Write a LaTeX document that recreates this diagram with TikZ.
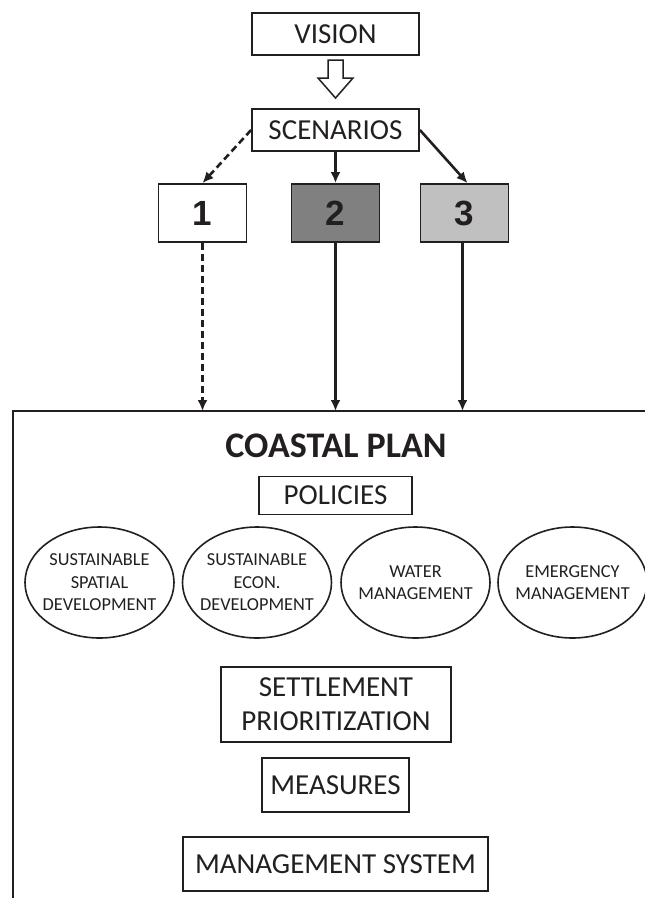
\documentclass[tikz,border=0pt]{standalone}
\usepackage{fontspec}
\setmainfont{Carlito}
\newfontfamily\numfont{Liberation Sans}
\usetikzlibrary{arrows.meta}
\definecolor{ink}{RGB}{35,31,32}
\definecolor{darkfill}{RGB}{128,128,128}
\definecolor{lightfill}{RGB}{192,192,192}
\tikzset{
  plainbox/.style={draw=ink, line width=1.8pt, rectangle, inner sep=0pt, text=ink,
    font=\fontsize{29}{34}\selectfont, align=center},
  numbox/.style={plainbox, minimum width=88pt, minimum height=58pt,
    font=\numfont\bfseries\fontsize{35}{40}\selectfont},
  policy/.style={inner sep=0pt, text=ink, align=center,
    font=\fontsize{18.3}{22.5}\selectfont},
  oval/.style={draw=ink, line width=1.6pt},
  link/.style={draw=ink, line width=2.6pt, -{Latex[length=11pt,width=10pt]}},
  dashlink/.style={link, dash pattern=on 7pt off 4pt},
}
\begin{document}
\begin{tikzpicture}[x=1pt,y=-1pt]
                \useasboundingbox (0.000000,0.000000) rectangle (645.000000,898.000000);
                
                % Drawing box VISION
                \node [plainbox, minimum width=167pt, minimum height=42pt] (vision) at (335.500000,34.000000) {VISION};%
                
                % Drawing hollow arrow VISION - SCENARIOS
                \draw [line width=1.5pt, draw=ink, fill=white] (328.000000,60.000000) -- (343.000000,60.000000) -- (343.000000,78.000000) -- (353.000000,78.000000) -- (335.500000,98.000000) -- (318.000000,78.000000) -- (328.000000,78.000000) -- cycle;%
                
                % Drawing box SCENARIOS
                \node [plainbox, minimum width=167pt, minimum height=42pt] (scenarios) at (335.500000,130.000000) {SCENARIOS};%
                
                % Drawing scenario boxes 1 2 3
                \node [numbox, fill=white] (s1) at (202.500000,213.000000) {1};%
                \node [numbox, fill=darkfill] (s2) at (335.500000,213.000000) {2};%
                \node [numbox, fill=lightfill] (s3) at (464.500000,213.000000) {3};%
                
                % Drawing segments SCENARIOS 1 2 3
                \draw [dashlink] (scenarios.west) -- (s1.north);%
                \draw [link] (scenarios.south) -- (s2.north);%
                \draw [link] (scenarios.east) -- ([xshift=3pt]s3.north);%
                
                % Drawing frame of coastal plan
                \coordinate (frametop) at (13.000000,411.000000);%
                \draw [line width=2pt, draw=ink] (13.000000,898.000000) -- (frametop) -- (645.000000,411.000000);%
                
                % Drawing segments 1 2 3 to frame
                \draw [dashlink] (s1.south) -- (s1.south |- frametop);%
                \draw [link] (s2.south) -- (s2.south |- frametop);%
                \draw [link] ([xshift=-2pt]s3.south) -- ([xshift=-2pt]s3.south |- frametop);%
                
                % Marking title COASTAL PLAN
                \node [text=ink, font=\bfseries\fontsize{36}{40}\selectfont] (plan) at (336.000000,446.000000) {COASTAL PLAN};%
                
                % Drawing box POLICIES
                \node [plainbox, minimum width=153pt, minimum height=38pt] (policies) at (335.500000,495.500000) {POLICIES};%
                
                % Drawing policy ellipses
                \node [policy] (spatial) at (99.500000,582.500000) {SUSTAINABLE\\SPATIAL\\DEVELOPMENT};%
                \node [policy] (econ) at (257.000000,582.500000) {SUSTAINABLE\\ECON.\\DEVELOPMENT};%
                \node [policy] (water) at (415.500000,582.500000) {WATER\\MANAGEMENT};%
                \node [policy] (emergency) at (572.500000,582.500000) {EMERGENCY\\MANAGEMENT};%
                \foreach \p in {spatial,econ,water,emergency}
                  \draw [oval] (\p.center) ellipse [x radius=74.5, y radius=55.5];%
                
                % Drawing box SETTLEMENT PRIORITIZATION
                \node [plainbox, minimum width=230pt, minimum height=75pt] (settlement) at (336.000000,704.500000) {SETTLEMENT\\PRIORITIZATION};%
                
                % Drawing box MEASURES
                \node [plainbox, minimum width=147pt, minimum height=54pt] (measures) at (335.500000,785.000000) {MEASURES};%
                
                % Drawing box MANAGEMENT SYSTEM
                \node [plainbox, minimum width=305pt, minimum height=54pt] (system) at (335.500000,864.000000) {MANAGEMENT SYSTEM};%
\end{tikzpicture}
\end{document}
